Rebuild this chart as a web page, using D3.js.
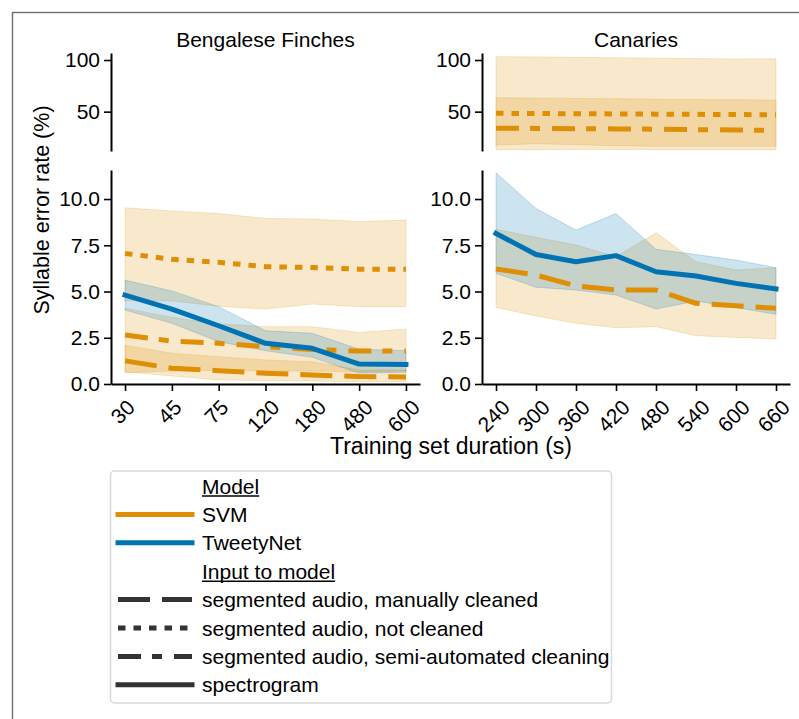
<!DOCTYPE html>
<html>
<head>
<meta charset="utf-8">
<script src="https://cdn.jsdelivr.net/npm/d3@7"></script>
<style>
  html, body { margin: 0; padding: 0; background: #fff; }
  svg { display: block; font-family: "Liberation Sans", Arial, sans-serif; }
</style>
</head>
<body>
<svg id="chart" width="799" height="719"></svg>
<script>
// ---- categories (training set duration, s) ----
const finchDurations  = ["30", "45", "75", "120", "180", "480", "600"];
const canaryDurations = ["240", "300", "360", "420", "480", "540", "600", "660"];

// ---- tick labels ----
const lowerTicks = [0, 2.5, 5, 7.5, 10];
const upperTicks = [50, 100];

// ---- Bengalese finches: mean and interval bounds (syllable error rate, %) ----
const finchSvmManualMean = [1.25, 0.85, 0.72, 0.58, 0.49, 0.40, 0.38];
const finchSvmManualLo   = [0.67, 0.43, 0.22, 0.18, 0.16, 0.12, 0.12];
const finchSvmManualHi   = [2.10, 1.66, 1.48, 1.30, 1.20, 0.76, 0.76];

const finchSvmNotCleanedMean = [7.06, 6.74, 6.58, 6.34, 6.30, 6.21, 6.21];
const finchSvmNotCleanedLo   = [4.50, 4.50, 4.20, 4.05, 4.32, 4.18, 4.18];
const finchSvmNotCleanedHi   = [9.53, 9.35, 9.22, 8.95, 8.92, 8.78, 8.86];

const finchSvmSemiMean = [2.65, 2.32, 2.20, 2.02, 1.87, 1.78, 1.78];
const finchSvmSemiLo   = [0.60, 0.70, 0.75, 0.70, 0.70, 0.65, 0.70];
const finchSvmSemiHi   = [4.10, 3.60, 3.25, 3.10, 3.10, 2.79, 2.97];

const finchTweetyMean = [4.81, 4.05, 3.15, 2.20, 1.93, 1.08, 1.06];
const finchTweetyLo   = [4.00, 3.28, 2.29, 1.80, 1.44, 0.58, 0.63];
const finchTweetyHi   = [5.62, 5.03, 4.18, 2.88, 2.74, 1.88, 1.80];

// ---- Canaries ----
const canarySvmManualMean = [6.22, 5.89, 5.30, 5.08, 5.08, 4.36, 4.23, 4.09];
const canarySvmManualLo   = [4.14, 3.68, 3.28, 3.04, 3.10, 2.61, 2.52, 2.43];
const canarySvmManualHi   = [8.36, 7.93, 7.51, 6.88, 8.18, 6.61, 6.16, 6.29];

const canarySvmNotCleanedMean = [48.4, 48.2, 48.0, 47.8, 47.6, 47.4, 47.2, 47.0];
const canarySvmNotCleanedLo   = [13.2, 13.2, 13.3, 13.3, 13.2, 13.2, 13.2, 13.2];
const canarySvmNotCleanedHi   = [103.2, 103.0, 102.6, 102.2, 101.8, 101.4, 101.0, 101.2];

const canarySvmSemiMean = [34.0, 33.8, 33.5, 33.3, 33.0, 32.6, 32.2, 31.8];
const canarySvmSemiLo   = [17.5, 19.0, 18.0, 17.0, 16.5, 16.5, 16.5, 16.5];
const canarySvmSemiHi   = [63.5, 63.2, 62.8, 62.5, 62.0, 61.7, 61.5, 61.3];

const canaryTweetyMean = [8.14, 7.00, 6.61, 6.94, 6.07, 5.84, 5.44, 5.14];
const canaryTweetyLo   = [5.98, 5.23, 5.08, 4.81, 4.05, 4.49, 4.13, 3.77];
const canaryTweetyHi   = [11.42, 9.49, 8.32, 9.22, 7.28, 7.00, 6.70, 6.29];

// ---- legend ----
const modelNames = ["SVM", "TweetyNet"];
const inputKeys  = ["manual", "notCleaned", "semi", "spectrogram"];
const inputNames = ["segmented audio, manually cleaned", "segmented audio, not cleaned",
                    "segmented audio, semi-automated cleaning", "spectrogram"];

// ---- styling ----
const colors = { SVM: "#de8f05", TweetyNet: "#0173b2" };
const dashes = { manual: "32,12", notCleaned: "7.5,8", semi: "23,11,10,12", spectrogram: null };
const FONT = 21;

const panels = [
  {
    title: "Bengalese Finches", cats: finchDurations, range: [111, 420], pad: 0.3,
    series: [
      { model: "SVM", input: "manual",     mean: finchSvmManualMean,     lo: finchSvmManualLo,     hi: finchSvmManualHi },
      { model: "SVM", input: "notCleaned", mean: finchSvmNotCleanedMean, lo: finchSvmNotCleanedLo, hi: finchSvmNotCleanedHi },
      { model: "SVM", input: "semi",       mean: finchSvmSemiMean,       lo: finchSvmSemiLo,       hi: finchSvmSemiHi },
      { model: "TweetyNet", input: "spectrogram", mean: finchTweetyMean, lo: finchTweetyLo, hi: finchTweetyHi }
    ]
  },
  {
    title: "Canaries", cats: canaryDurations, range: [482, 790], pad: 0.35,
    series: [
      { model: "SVM", input: "manual",     mean: canarySvmManualMean,     lo: canarySvmManualLo,     hi: canarySvmManualHi },
      { model: "SVM", input: "notCleaned", mean: canarySvmNotCleanedMean, lo: canarySvmNotCleanedLo, hi: canarySvmNotCleanedHi },
      { model: "SVM", input: "semi",       mean: canarySvmSemiMean,       lo: canarySvmSemiLo,       hi: canarySvmSemiHi },
      { model: "TweetyNet", input: "spectrogram", mean: canaryTweetyMean, lo: canaryTweetyLo, hi: canaryTweetyHi }
    ]
  }
];

const svg = d3.select("#chart");

// figure frame
svg.append("rect")
  .attr("x", 12.5).attr("y", 12.5).attr("width", 900).attr("height", 900)
  .attr("fill", "none").attr("stroke", "#707070").attr("stroke-width", 1.4);

// broken y-axis: a lower and an upper section sharing the x positions
const sections = [
  { key: "lower", y: d3.scaleLinear().domain([0, 11.57]).range([384, 170]),  ticks: lowerTicks, fmt: d3.format(".1f") },
  { key: "upper", y: d3.scaleLinear().domain([11.9, 106.8]).range([151, 53]), ticks: upperTicks, fmt: d3.format("d") }
];

const defs = svg.append("defs");

panels.forEach((p, pi) => {
  const x = d3.scalePoint().domain(p.cats).range(p.range).padding(p.pad);
  const pg = svg.append("g").attr("class", "panel");

  sections.forEach(sec => {
    const [yb, yt] = sec.y.range();
    const clipId = `clip-${pi}-${sec.key}`;
    defs.append("clipPath").attr("id", clipId)
      .append("rect").attr("x", p.range[0]).attr("y", yt)
      .attr("width", p.range[1] - p.range[0]).attr("height", yb - yt);

    const g = pg.append("g").attr("clip-path", `url(#${clipId})`);

    const area = d3.area()
      .x((d, i) => x(p.cats[i]))
      .y0(d => sec.y(d[0]))
      .y1(d => sec.y(d[1]));
    const line = d3.line()
      .x((d, i) => x(p.cats[i]))
      .y(d => sec.y(d));

    // interval bands
    p.series.forEach(s => {
      g.append("path")
        .datum(s.lo.map((v, i) => [v, s.hi[i]]))
        .attr("d", area)
        .attr("fill", colors[s.model]).attr("fill-opacity", 0.2)
        .attr("stroke", colors[s.model]).attr("stroke-opacity", 0.2).attr("stroke-width", 1);
    });
    // mean lines
    p.series.forEach(s => {
      const dash = dashes[s.input];
      g.append("path")
        .datum(s.mean)
        .attr("d", line)
        .attr("fill", "none")
        .attr("stroke", colors[s.model])
        .attr("stroke-width", 5)
        .attr("stroke-linejoin", "round")
        .attr("stroke-linecap", dash ? "butt" : "square")
        .attr("stroke-dasharray", dash);
    });

    // y axis
    const ya = pg.append("g")
      .attr("transform", `translate(${p.range[0]},0)`)
      .call(d3.axisLeft(sec.y).tickValues(sec.ticks).tickFormat(sec.fmt)
        .tickSize(7).tickSizeOuter(0).tickPadding(4));
    ya.select(".domain").attr("stroke", "#000").attr("stroke-width", 2);
    ya.selectAll(".tick line").attr("stroke", "#000").attr("stroke-width", 1.6);
    ya.selectAll(".tick text").attr("font-size", FONT).attr("fill", "#000")
      .attr("font-family", "Liberation Sans, Arial, sans-serif");
  });

  // x axis
  const xa = pg.append("g")
    .attr("transform", "translate(0,384)")
    .call(d3.axisBottom(x).tickSize(7).tickSizeOuter(0));
  xa.select(".domain").attr("stroke", "#000").attr("stroke-width", 2);
  xa.selectAll(".tick line").attr("stroke", "#000").attr("stroke-width", 1.6);
  xa.selectAll(".tick text")
    .attr("font-size", FONT).attr("fill", "#000")
    .attr("font-family", "Liberation Sans, Arial, sans-serif")
    .attr("text-anchor", "middle")
    .attr("y", null).attr("dy", "0.358em")
    .attr("transform", function () {
      const w = this.getComputedTextLength();
      const h = 0.716 * FONT;
      const rb = (w + h) / Math.SQRT2;
      return `translate(-3,${14 + rb / 2}) rotate(-45)`;
    });

  // panel title
  svg.append("text")
    .attr("x", (p.range[0] + p.range[1]) / 2).attr("y", 47)
    .attr("text-anchor", "middle").attr("font-size", FONT).attr("fill", "#000")
    .text(p.title);
});

// axis labels
svg.append("text")
  .attr("transform", "translate(49,210) rotate(-90)")
  .attr("text-anchor", "middle").attr("font-size", 21.5).attr("fill", "#000")
  .text("Syllable error rate (%)");
svg.append("text")
  .attr("x", 451).attr("y", 454)
  .attr("text-anchor", "middle").attr("font-size", 23).attr("fill", "#000")
  .text("Training set duration (s)");

// legend
const lg = svg.append("g").attr("class", "legend");
lg.append("rect")
  .attr("x", 110.5).attr("y", 471).attr("width", 501).attr("height", 232).attr("rx", 4)
  .attr("fill", "#fff").attr("stroke", "#d9d9d9").attr("stroke-width", 1.5);

const rows = [
  { label: "Model", header: true },
  ...modelNames.map(m => ({ label: m, color: colors[m], dash: null })),
  { label: "Input to model", header: true },
  ...inputKeys.map((k, i) => ({ label: inputNames[i], color: "#333333", dash: dashes[k] }))
];

rows.forEach((r, i) => {
  const cy = 486 + 28.4 * i;
  if (!r.header) {
    lg.append("line")
      .attr("x1", 118).attr("x2", 192).attr("y1", cy).attr("y2", cy)
      .attr("stroke", r.color).attr("stroke-width", 5)
      .attr("stroke-linecap", r.dash ? "butt" : "square")
      .attr("stroke-dasharray", r.dash);
  }
  const t = lg.append("text")
    .attr("x", 202).attr("y", cy).attr("dy", "0.358em")
    .attr("font-size", FONT).attr("fill", "#000")
    .text(r.label);
  if (r.header) {
    const w = t.node().getComputedTextLength();
    lg.append("line")
      .attr("x1", 202).attr("x2", 202 + w)
      .attr("y1", cy + 0.358 * FONT + 2.5).attr("y2", cy + 0.358 * FONT + 2.5)
      .attr("stroke", "#000").attr("stroke-width", 1.4);
  }
});
</script>
</body>
</html>
